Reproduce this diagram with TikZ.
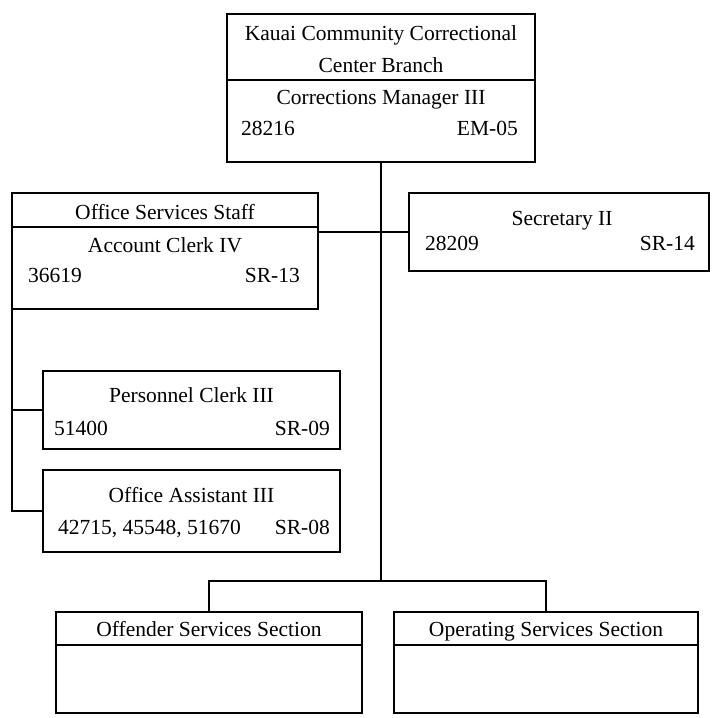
\documentclass[tikz,border=0pt]{standalone}
\usepackage{fontspec}
\setmainfont{Liberation Serif}
\begin{document}
\begin{tikzpicture}[x=1pt,y=-1pt,
  box/.style={draw, line width=2.8pt, inner sep=0pt, outer sep=0pt},
  divline/.style={line width=2.4pt},
  conn/.style={line width=2.6pt},
  lbl/.style={inner sep=0pt, font=\fontsize{21.5}{24}\selectfont, text height=14pt, text depth=0pt},
  lw/.style={lbl, anchor=west},
  le/.style={lbl, anchor=east}]
\useasboundingbox[fill=white] (0,0) rectangle (712,718);
% boxes
\node[box, minimum width=308pt, minimum height=148pt] (top) at (381,88) {};
\node[box, minimum width=306pt, minimum height=116pt] (office) at (165,251) {};
\node[box, minimum width=300pt, minimum height=78pt] (sec) at (559,232) {};
\node[box, minimum width=297pt, minimum height=78pt] (pers) at (191.5,410) {};
\node[box, minimum width=297pt, minimum height=82pt] (oa) at (191.5,511) {};
\node[box, minimum width=306pt, minimum height=101pt] (off) at (209,662.5) {};
\node[box, minimum width=304pt, minimum height=101pt] (oper) at (546,662.5) {};
% dividers
\coordinate (dtop) at (0,80);
\coordinate (doff) at (0,227);
\coordinate (dsec) at (0,645);
\draw[divline] (top.west |- dtop) -- (top.east |- dtop);
\draw[divline] (office.west |- doff) -- (office.east |- doff);
\draw[divline] (off.west |- dsec) -- (off.east |- dsec);
\draw[divline] (oper.west |- dsec) -- (oper.east |- dsec);
% texts
\node[lbl] (t1) at (381,33) {Kauai Community Correctional};
\node[lbl] (t2) at (381,65) {Center Branch};
\node[lbl] (t3) at (381,97) {Corrections Manager III};
\node[lw] (t4) at (241,128) {28216};
\node[le] (t5) at (518,128) {EM-05};
\node[lbl] (o1) at (165,212) {Office Services Staff};
\node[lbl] (o2) at (165,245) {Account Clerk IV};
\node[lw] (o3) at (28,275) {36619};
\node[le] (o4) at (300,275) {SR-13};
\node[lbl] (s1) at (562,218) {Secretary II};
\node[lw] (s2) at (425,243) {28209};
\node[le] (s3) at (695,243) {SR-14};
\node[lbl] (p1) at (191.5,395) {Personnel Clerk III};
\node[lw] (p2) at (54,428) {51400};
\node[le] (p3) at (330,428) {SR-09};
\node[lbl] (a1) at (191.5,495) {Office Assistant III};
\node[lw] (a2) at (58,527) {42715, 45548, 51670};
\node[le] (a3) at (330,527) {SR-08};
\node[lbl] (f1) at (209,629) {Offender Services Section};
\node[lbl] (g1) at (546,629) {Operating Services Section};
% connectors
\coordinate (jb) at (381,581);
\draw[conn] (top.south) -- (jb);
\draw[conn] (office.east |- sec.west) -- (sec.west);
\draw[conn] (office.south west) -- (office.south west |- oa.west) -- (oa.west);
\draw[conn] (office.south west |- pers.west) -- (pers.west);
\draw[conn] (off.north) -- (off.north |- jb) -- (oper.north |- jb) -- (oper.north);
\end{tikzpicture}
\end{document}
